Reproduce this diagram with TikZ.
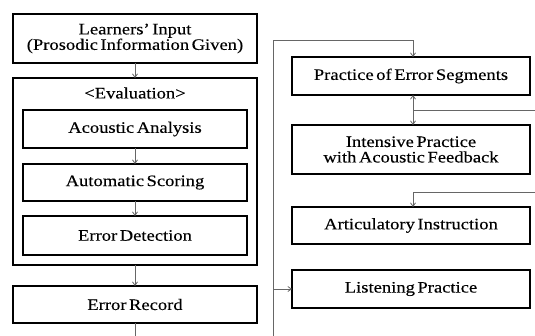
\documentclass[tikz,border=0pt]{standalone}
\usepackage{fontspec}
\setmainfont[FakeStretch=1.16, WordSpace=0.55, FakeBold=0.2]{Liberation Serif}
\usetikzlibrary{arrows.meta}

\begin{document}
\begin{tikzpicture}[x=1pt, y=-1pt,
    box/.style={draw=black, line width=1.7pt, inner sep=0pt, outer sep=0pt,
      align=center, font=\fontsize{16}{15.5}\selectfont},
    link/.style={draw=black!60, line width=0.8pt},
    >={Straight Barb[length=3.5pt, width=5pt]}]
  \useasboundingbox (0,0) rectangle (535,335);
  % left column: input, evaluation, record
  \node[box, minimum width=244pt, minimum height=49pt] (learn) at (135,38.5) {Learners' Input\\(Prosodic Information Given)};
  \node[box, minimum width=244pt, minimum height=187pt] (eval) at (135,171.5) {};
  \node[font=\fontsize{16}{15.5}\selectfont, inner sep=0pt] (evtitle) at (135,93) {<Evaluation>};
  \node[box, minimum width=224pt, minimum height=38pt] (acou) at (135,129) {Acoustic Analysis};
  \node[box, minimum width=224pt, minimum height=37pt] (score) at (135,182.5) {Automatic Scoring};
  \node[box, minimum width=224pt, minimum height=39pt] (detect) at (135,235.5) {Error Detection};
  \node[box, minimum width=244pt, minimum height=37pt] (record) at (135,304.5) {Error Record};
  \draw[link, ->] (learn) -- (eval);
  \draw[link, ->] (acou) -- (score);
  \draw[link, ->] (score) -- (detect);
  \draw[link, ->] (eval) -- (record);
  \coordinate (recend) at (135,337);
  \draw[link] (record) -- (recend);
  % right column: practice menu
  \node[box, minimum width=238pt, minimum height=38pt] (prac) at (411,76) {Practice of Error Segments};
  \node[box, minimum width=238pt, minimum height=49pt] (intens) at (411,149.5) {Intensive Practice\\with Acoustic Feedback};
  \node[box, minimum width=238pt, minimum height=37pt] (artic) at (411,225.5) {Articulatory Instruction};
  \node[box, minimum width=238pt, minimum height=38pt] (listen) at (411,289) {Listening Practice};
  \coordinate (bustop) at (273,40);
  \coordinate (busend) at (273,337);
  \coordinate (fbedge) at (537,110);
  \coordinate (aredge) at (537,192);
  \coordinate (fbjoin) at ([xshift=2pt]prac.south);
  \draw[link, ->] (busend) -- (bustop) -| ([xshift=2pt]prac.north);
  \draw[link, <->] (fbjoin) -- ([xshift=2pt]intens.north);
  \draw[link] (fbedge) -- (fbedge -| fbjoin);
  \draw[link, ->] (aredge) -| ([xshift=2pt]artic.north);
  \draw[link, ->] (busend |- listen.west) -- (listen.west);
\end{tikzpicture}
\end{document}
